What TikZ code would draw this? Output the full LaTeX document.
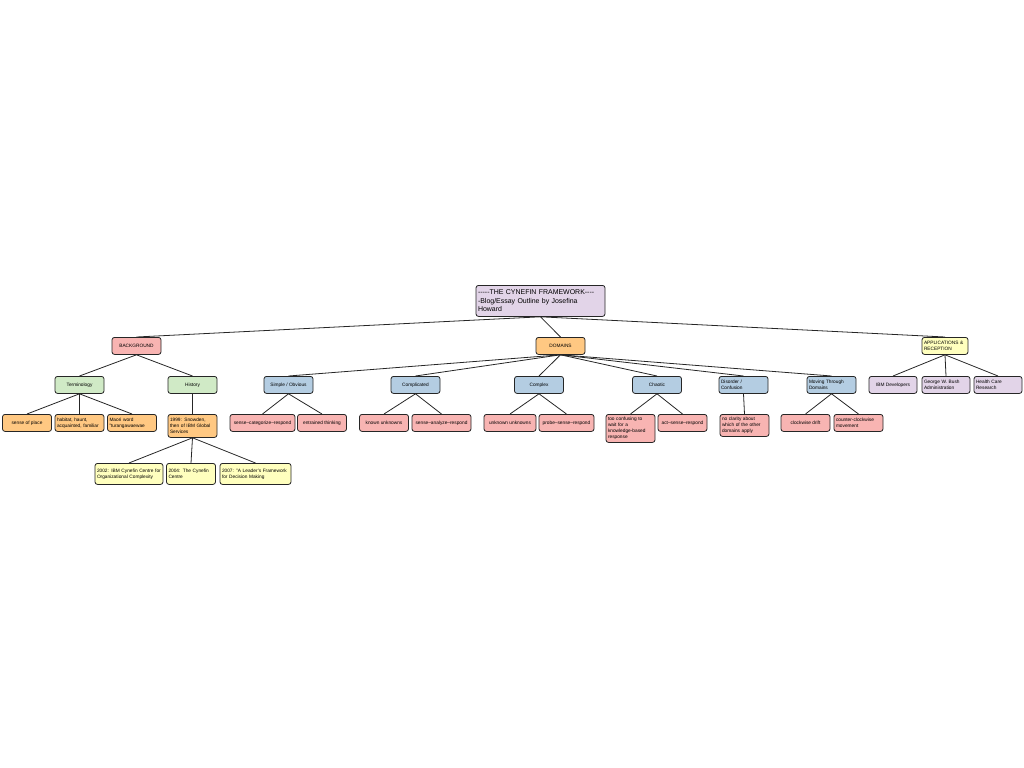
\documentclass[tikz,border=0pt]{standalone}
\usepackage{fontspec}
\setmainfont{Liberation Sans}
\usepackage{xcolor}

\definecolor{rosec}{RGB}{248,180,178}
\definecolor{orangec}{RGB}{255,200,130}
\definecolor{yellowc}{RGB}{255,255,190}
\definecolor{greenc}{RGB}{208,234,198}
\definecolor{bluec}{RGB}{180,205,226}
\definecolor{lilac}{RGB}{226,212,232}

\begin{document}
\begin{tikzpicture}[x=1bp, y=-1bp,
	box/.style={draw=black!85, fill=#1, rounded corners=2.5bp, line width=0.8bp, anchor=north,
		minimum width=49bp, minimum height=17bp, inner sep=2bp,
		font=\fontsize{4.8}{5.8}\selectfont},
	wrap/.style={text width=#1, align=left},
	link/.style={draw=black!85, line width=0.8bp}]
	\useasboundingbox (0,0) rectangle (1024,768);
	% root
	\node[box=lilac, minimum width=129bp, minimum height=31bp, wrap=125bp,
		font=\fontsize{7}{8.6}\selectfont] (root) at (540.5,285)
		{-{}-{}-{}-{}-THE CYNEFIN FRAMEWORK-{}-{}-{}-\\-Blog/Essay Outline by Josefina\\Howard};
	% first level
	\node[box=rosec] (bg) at (136.5,337) {BACKGROUND};
	\node[box=orangec] (dom) at (560.5,337) {DOMAINS};
	\node[box=yellowc, minimum width=46bp, wrap=42bp] (app) at (945,337) {APPLICATIONS \&\\RECEPTION};
	% background
	\node[box=greenc] (term) at (79.5,376) {Terminology};
	\node[box=greenc] (hist) at (192.5,376) {History};
	\node[box=orangec] (place) at (27,414) {sense of place};
	\node[box=orangec, wrap=45bp] (habit) at (79.5,414) {habitat, haunt,\\acquainted, familiar};
	\node[box=orangec, wrap=45bp] (maori) at (132,414) {Maori word\\"turangawaewae};
	\node[box=orangec, minimum height=23bp, wrap=45bp] (snow) at (192.5,414) {1999: Snowden,\\then of IBM Global\\Services};
	\node[box=yellowc, minimum width=68bp, minimum height=21bp, wrap=64bp] (centre) at (129,463) {2002: IBM Cynefin Centre for\\Organizational Complexity};
	\node[box=yellowc, minimum height=21bp, wrap=45bp] (cyne) at (191,463) {2004: The Cynefin\\Centre};
	\node[box=yellowc, minimum width=71bp, minimum height=21bp, wrap=67bp] (lead) at (255.5,463) {2007: "A Leader's Framework\\for Decision Making};
	% domains
	\node[box=bluec] (simple) at (288.5,376) {Simple / Obvious};
	\node[box=bluec] (compli) at (415.5,376) {Complicated};
	\node[box=bluec] (complex) at (539,376) {Complex};
	\node[box=bluec] (chaos) at (657,376) {Chaotic};
	\node[box=bluec, wrap=45bp] (disord) at (743.5,376) {Disorder /\\Confusion};
	\node[box=bluec, wrap=45bp] (moving) at (831.5,376) {Moving Through\\Domains};
	\node[box=rosec, minimum width=65bp] (scr) at (262.5,414) {sense--categorize--respond};
	\node[box=rosec] (entr) at (322,414) {entrained thinking};
	\node[box=rosec] (known) at (384,414) {known unknowns};
	\node[box=rosec, minimum width=59bp] (sar) at (441.5,414) {sense--analyze--respond};
	\node[box=rosec, minimum width=52bp] (unkn) at (510,414) {unknown unknowns};
	\node[box=rosec, minimum width=55bp] (psr) at (566.5,414) {probe--sense--respond};
	\node[box=rosec, minimum height=28bp, wrap=45bp] (wait) at (630.5,414) {too confusing to\\wait for a\\knowledge-based\\response};
	\node[box=rosec] (asr) at (682.5,414) {act--sense--respond};
	\node[box=rosec, minimum height=22bp, wrap=45bp] (clar) at (744.5,414) {no clarity about\\which of the other\\domains apply};
	\node[box=rosec] (drift) at (805.5,414) {clockwise drift};
	\node[box=rosec, wrap=45bp] (counter) at (858.5,414) {counter-clockwise\\movement};
	% applications
	\node[box=lilac, minimum width=48bp] (ibm) at (893,376) {IBM Developers};
	\node[box=lilac, minimum width=48bp, wrap=44bp] (bush) at (946,376) {George W. Bush\\Administration};
	\node[box=lilac, minimum width=48bp, wrap=44bp] (health) at (998,376) {Health Care\\Research};
	% links
	\foreach \c in {bg,dom,app} \draw[link] (root.south) -- (\c.north);
	\foreach \c in {term,hist} \draw[link] (bg.south) -- (\c.north);
	\foreach \c in {place,habit,maori} \draw[link] (term.south) -- (\c.north);
	\draw[link] (hist.south) -- (snow.north);
	\foreach \c in {centre,cyne,lead} \draw[link] (snow.south) -- (\c.north);
	\foreach \c in {simple,compli,complex,chaos,disord,moving} \draw[link] (dom.south) -- (\c.north);
	\foreach \c in {scr,entr} \draw[link] (simple.south) -- (\c.north);
	\foreach \c in {known,sar} \draw[link] (compli.south) -- (\c.north);
	\foreach \c in {unkn,psr} \draw[link] (complex.south) -- (\c.north);
	\foreach \c in {wait,asr} \draw[link] (chaos.south) -- (\c.north);
	\draw[link] (disord.south) -- (clar.north);
	\foreach \c in {drift,counter} \draw[link] (moving.south) -- (\c.north);
	\foreach \c in {ibm,bush,health} \draw[link] (app.south) -- (\c.north);
\end{tikzpicture}
\end{document}
